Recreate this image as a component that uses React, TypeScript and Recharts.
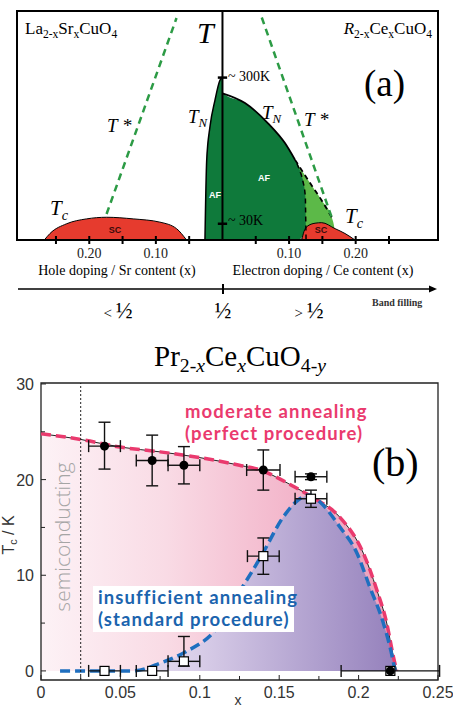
import React from 'react';
import {
  ComposedChart,
  Area,
  Line,
  Scatter,
  XAxis,
  YAxis,
  ReferenceLine,
  ReferenceArea,
  ErrorBar,
} from 'recharts';

// ---------- panel (a): schematic phase diagram (x < 0 hole side, x > 0 electron side)
const A_X_DOMAIN = [-0.3085, 0.3236];
const A_T_DOMAIN = [0, 423];
const A_TICKS = [-0.25, -0.2, -0.15, -0.1, -0.05, 0.05, 0.1, 0.15, 0.2, 0.25];
const A_TICK_LABELS = [-0.2, -0.1, 0.1, 0.2];

const lscoDome = [
  { x: -0.2675, y: 0 },
  { x: -0.259, y: 12 },
  { x: -0.234, y: 30 },
  { x: -0.204, y: 39 },
  { x: -0.174, y: 42 },
  { x: -0.134, y: 39 },
  { x: -0.094, y: 33 },
  { x: -0.069, y: 21 },
  { x: -0.054, y: 0 },
];
const ncoDome = [
  { x: 0.119, y: 0 },
  { x: 0.1225, y: 16 },
  { x: 0.127, y: 25 },
  { x: 0.139, y: 31 },
  { x: 0.149, y: 32 },
  { x: 0.169, y: 21 },
  { x: 0.184, y: 12 },
  { x: 0.199, y: 0 },
];
const greyWedge = [
  { x: 0.115, y: 0 },
  { x: 0.121, y: 8 },
  { x: 0.1265, y: 18 },
];
const tnHole = [
  { x: -0.0263, y: 0 },
  { x: -0.0237, y: 147 },
  { x: -0.0188, y: 209 },
  { x: -0.0113, y: 258 },
  { x: -0.0038, y: 295 },
  { x: 0, y: 301 },
];
const tnElectron = [
  { x: 0, y: 271 },
  { x: 0.0338, y: 253 },
  { x: 0.0688, y: 215 },
  { x: 0.0938, y: 179 },
  { x: 0.109, y: 148 },
];
const tnDashed = [
  { x: 0.109, y: 148 },
  { x: 0.129, y: 110 },
  { x: 0.149, y: 73 },
  { x: 0.164, y: 42 },
];
const afEdge = [
  { x: 0.112, y: 141 },
  { x: 0.1185, y: 120 },
  { x: 0.123, y: 97 },
  { x: 0.1245, y: 80 },
  { x: 0.1255, y: 0 },
];
const afRegion = [
  ...tnHole,
  { x: 0.0005, y: 271 },
  ...tnElectron.slice(1),
  { x: 0.114, y: 136 },
  { x: 0.1185, y: 120 },
  { x: 0.123, y: 97 },
  { x: 0.1245, y: 80 },
  { x: 0.1255, y: 0 },
];
const afLight = [
  { x: 0.105, y: 156 },
  ...tnDashed,
  { x: 0.168, y: 22 },
  { x: 0.17, y: 0 },
];
const tStarHole = [
  { x: -0.174, y: 48 },
  { x: -0.069, y: 410 },
];
const tStarElectron = [
  { x: 0.059, y: 411 },
  { x: 0.164, y: 42 },
];

// ---------- panel (b): Pr2-xCexCuO4-y
const B_X_DOMAIN = [0, 0.25];
const B_Y_DOMAIN = [-0.95, 30.1];
const B_X_TICKS = [0, 0.025, 0.05, 0.075, 0.1, 0.125, 0.15, 0.175, 0.2, 0.225, 0.25];
const B_Y_TICKS = [0, 5, 10, 15, 20, 25, 30];
const SEMI_BOUNDARY = 0.025;

const moderateCurve = [
  { x: 0, y: 24.8 },
  { x: 0.025, y: 24.2 },
  { x: 0.05, y: 23.4 },
  { x: 0.075, y: 22.9 },
  { x: 0.1, y: 22.3 },
  { x: 0.125, y: 21.5 },
  { x: 0.14, y: 20.9 },
  { x: 0.15, y: 20.1 },
  { x: 0.16, y: 19.2 },
  { x: 0.1725, y: 18.0 },
  { x: 0.188, y: 16.1 },
  { x: 0.203, y: 12.3 },
  { x: 0.2114, y: 8.5 },
  { x: 0.2177, y: 5 },
  { x: 0.2219, y: 1.5 },
  { x: 0.224, y: 0 },
];
const standardCurve = [
  { x: 0.012, y: 0 },
  { x: 0.035, y: 0 },
  { x: 0.058, y: 0 },
  { x: 0.075, y: 0.8 },
  { x: 0.09, y: 1.9 },
  { x: 0.11, y: 4.3 },
  { x: 0.127, y: 8.8 },
  { x: 0.139, y: 12.1 },
  { x: 0.1526, y: 16.1 },
  { x: 0.163, y: 18.0 },
  { x: 0.169, y: 18.4 },
  { x: 0.176, y: 17.6 },
  { x: 0.188, y: 15.1 },
  { x: 0.199, y: 12.3 },
  { x: 0.207, y: 8.8 },
  { x: 0.2156, y: 5 },
  { x: 0.2205, y: 2 },
  { x: 0.223, y: 0 },
];
const moderatePoints = [
  { x: 0.04, y: 23.5, ex: 0.01, ey: [2.4, 2.5] },
  { x: 0.07, y: 22.0, ex: 0.01, ey: 2.65 },
  { x: 0.09, y: 21.5, ex: 0.01, ey: 1.95 },
  { x: 0.14, y: 21.0, ex: 0.0105, ey: 2.1 },
  { x: 0.17, y: 20.3, ex: 0.01, ey: 0.3 },
  { x: 0.22, y: 0, ex: 0.031, ey: 0 },
];
const standardPoints = [
  { x: 0.04, y: 0, ex: 0.01, ey: 0 },
  { x: 0.07, y: 0, ex: 0.01, ey: 0 },
  { x: 0.09, y: 1.0, ex: 0.01, ey: [0.5, 2.6] },
  { x: 0.14, y: 12.0, ex: 0.01, ey: 1.9 },
  { x: 0.17, y: 18.0, ex: 0.01, ey: 0.9 },
  { x: 0.22, y: 0, ex: 0, ey: 0 },
];

const SERIF = '"Liberation Serif", "DejaVu Serif", serif';
const SANS = '"Liberation Sans", Arial, sans-serif';
const GILL = 'Lato, "Open Sans", sans-serif';

// text placed by its baseline
const Txt = ({ x, y, size, center, right, style, children }: any) => (
  <div
    style={{
      position: 'absolute',
      left: right ? undefined : x,
      right: right ? 453 - x : undefined,
      top: y - size * 0.85,
      fontSize: size,
      lineHeight: 1,
      whiteSpace: 'nowrap',
      fontFamily: SERIF,
      transform: center ? 'translateX(-50%)' : undefined,
      ...style,
    }}
  >
    {children}
  </div>
);

const Sub = ({ children, italic }: any) => (
  <span
    style={{
      fontSize: '0.68em',
      verticalAlign: '-0.32em',
      fontStyle: italic ? 'italic' : undefined,
    }}
  >
    {children}
  </span>
);

const Half = () => <span style={{ fontSize: '1.5em' }}>½</span>;

const ATick = ({ x, y, payload }: any) => {
  const v = payload.value;
  const hundred = Math.round(v * 100);
  const show = A_TICK_LABELS.some((t) => Math.round(t * 100) === hundred);
  return (
    <g>
      <line x1={x} x2={x} y1={y - 4} y2={y + 4} stroke="#000" strokeWidth={2} />
      {show && (
        <text x={x} y={y + 18} textAnchor="middle" fontFamily={SERIF} fontSize={14} fill="#222">
          {Math.abs(v).toFixed(2)}
        </text>
      )}
    </g>
  );
};

const BTickX = ({ x, y, payload }: any) => {
  const v = payload.value;
  const major = Math.round(v * 1000) % 50 === 0;
  return (
    <g>
      <line x1={x} x2={x} y1={y} y2={y - (major ? 5 : 4)} stroke="#222" />
      {major && (
        <text x={x} y={y + 18} textAnchor="middle" fontFamily={SANS} fontSize={16} fill="#333">
          {String(Number(v.toFixed(3)))}
        </text>
      )}
    </g>
  );
};

const BTickY = ({ x, y, payload }: any) => {
  const v = payload.value;
  const major = v % 10 === 0;
  return (
    <g>
      <line x1={x} x2={x + (major ? 5 : 4)} y1={y} y2={y} stroke="#222" />
      {major && (
        <text x={x - 7} y={y + 6} textAnchor="end" fontFamily={SANS} fontSize={16} fill="#333">
          {v}
        </text>
      )}
    </g>
  );
};

const FilledDot = (p: any) => <circle cx={p.cx} cy={p.cy} r={4.5} fill="#000" />;
const OpenSquare = (p: any) => (
  <rect x={p.cx - 4.5} y={p.cy - 4.5} width={9} height={9} fill="#fff" stroke="#000" strokeWidth={1.2} />
);

const PanelA = () => (
  <ComposedChart width={453} height={270} margin={{ top: 11, right: 15, left: 17, bottom: 0 }}>
    <XAxis
      type="number"
      dataKey="x"
      domain={A_X_DOMAIN}
      ticks={A_TICKS}
      interval={0}
      allowDataOverflow
      axisLine={false}
      tickLine={false}
      tickSize={0}
      tickMargin={0}
      height={30}
      tick={<ATick />}
    />
    <YAxis type="number" dataKey="y" domain={A_T_DOMAIN} allowDataOverflow hide />
    <Area data={afLight} dataKey="y" type="monotone" fill="#5cb948" fillOpacity={1} stroke="none" isAnimationActive={false} />
    <Area data={afRegion} dataKey="y" type="monotone" fill="#0f7a3b" fillOpacity={1} stroke="none" isAnimationActive={false} />
    <Area data={greyWedge} dataKey="y" type="linear" fill="#8c8c8c" fillOpacity={1} stroke="none" isAnimationActive={false} />
    <Area data={lscoDome} dataKey="y" type="monotone" fill="#e63b2e" fillOpacity={1} stroke="#000" strokeWidth={1} isAnimationActive={false} />
    <Area data={ncoDome} dataKey="y" type="monotone" fill="#e63b2e" fillOpacity={1} stroke="#000" strokeWidth={1} isAnimationActive={false} />
    <Line data={tnHole} dataKey="y" type="monotone" stroke="#000" strokeWidth={1.5} dot={false} isAnimationActive={false} />
    <Line data={tnElectron} dataKey="y" type="monotone" stroke="#000" strokeWidth={1.8} dot={false} isAnimationActive={false} />
    <Line data={tnDashed} dataKey="y" type="monotone" stroke="#000" strokeWidth={1.8} strokeDasharray="5 4" dot={false} isAnimationActive={false} />
    <Line data={afEdge} dataKey="y" type="linear" stroke="#000" strokeWidth={1.5} strokeDasharray="5 4" dot={false} isAnimationActive={false} />
    <Line data={tStarHole} dataKey="y" type="linear" stroke="#2c9b45" strokeWidth={2.5} strokeDasharray="7 5" dot={false} isAnimationActive={false} />
    <Line data={tStarElectron} dataKey="y" type="linear" stroke="#2c9b45" strokeWidth={2.5} strokeDasharray="7 5" dot={false} isAnimationActive={false} />
    <ReferenceLine x={0} stroke="#000" strokeWidth={2} />
    <ReferenceLine segment={[{ x: -0.007, y: 300 }, { x: 0.007, y: 300 }]} stroke="#000" strokeWidth={2.5} />
    <ReferenceLine segment={[{ x: -0.007, y: 30 }, { x: 0.007, y: 30 }]} stroke="#000" strokeWidth={2.5} />
    <ReferenceArea
      x1={A_X_DOMAIN[0]}
      x2={A_X_DOMAIN[1]}
      y1={A_T_DOMAIN[0]}
      y2={A_T_DOMAIN[1]}
      fill="none"
      stroke="#000"
      strokeWidth={2}
      ifOverflow="visible"
    />
  </ComposedChart>
);

const PanelB = () => (
  <ComposedChart width={453} height={370} margin={{ top: 43, right: 15, left: 0, bottom: 0 }}>
    <defs>
      <linearGradient id="pinkFill" x1="0" y1="0" x2="1" y2="0">
        <stop offset="0" stopColor="#fdf2f6" />
        <stop offset="0.35" stopColor="#f9dbe5" />
        <stop offset="0.7" stopColor="#f3b6cb" />
        <stop offset="1" stopColor="#ee9fba" />
      </linearGradient>
      <linearGradient id="purpleFill" x1="0" y1="0" x2="1" y2="0">
        <stop offset="0" stopColor="#f3edf7" />
        <stop offset="0.4" stopColor="#dacfe9" />
        <stop offset="0.7" stopColor="#b7a8d3" />
        <stop offset="1" stopColor="#9581bc" />
      </linearGradient>
    </defs>
    <XAxis
      type="number"
      dataKey="x"
      domain={B_X_DOMAIN}
      ticks={B_X_TICKS}
      interval={0}
      allowDataOverflow
      axisLine={false}
      tickLine={false}
      tickSize={0}
      tickMargin={0}
      height={30}
      tick={<BTickX />}
    />
    <YAxis
      type="number"
      dataKey="y"
      domain={B_Y_DOMAIN}
      ticks={B_Y_TICKS}
      interval={0}
      allowDataOverflow
      axisLine={false}
      tickLine={false}
      tickSize={0}
      tickMargin={0}
      width={41}
      tick={<BTickY />}
    />
    <Area data={moderateCurve} dataKey="y" type="monotone" fill="url(#pinkFill)" fillOpacity={1} stroke="none" isAnimationActive={false} />
    <Area data={standardCurve} dataKey="y" type="monotone" fill="url(#purpleFill)" fillOpacity={1} stroke="none" isAnimationActive={false} />
    <Line data={moderateCurve} dataKey="y" type="monotone" stroke="#222" strokeWidth={1} dot={false} isAnimationActive={false} />
    <Line data={moderateCurve} dataKey="y" type="monotone" stroke="#ea3a6e" strokeWidth={3.5} strokeDasharray="10 5" dot={false} isAnimationActive={false} />
    <Line data={standardCurve} dataKey="y" type="monotone" stroke="#1f6fbf" strokeWidth={3.5} strokeDasharray="10 5" dot={false} isAnimationActive={false} />
    <ReferenceLine x={SEMI_BOUNDARY} stroke="#222" strokeWidth={1} strokeDasharray="2 2" />
    <Scatter data={standardPoints} shape={<OpenSquare />} isAnimationActive={false}>
      <ErrorBar dataKey="ex" direction="x" width={6} stroke="#111" strokeWidth={1.4} />
      <ErrorBar dataKey="ey" direction="y" width={6} stroke="#111" strokeWidth={1.4} />
    </Scatter>
    <Scatter data={moderatePoints} shape={<FilledDot />} isAnimationActive={false}>
      <ErrorBar dataKey="ex" direction="x" width={6} stroke="#111" strokeWidth={1.4} />
      <ErrorBar dataKey="ey" direction="y" width={6} stroke="#111" strokeWidth={1.4} />
    </Scatter>
    <ReferenceArea
      x1={B_X_DOMAIN[0]}
      x2={B_X_DOMAIN[1]}
      y1={B_Y_DOMAIN[0]}
      y2={B_Y_DOMAIN[1]}
      fill="none"
      stroke="#222"
      strokeWidth={1.3}
      ifOverflow="visible"
    />
  </ComposedChart>
);

export default function App() {
  const it = { fontStyle: 'italic' };
  const note = { fontFamily: GILL, fontWeight: 700, letterSpacing: 1.1 };
  return (
    <div style={{ position: 'absolute', left: 0, top: 0, width: 453, height: 710, background: '#fff', overflow: 'hidden' }}>
      <div style={{ position: 'absolute', left: 0, top: 0 }}>
        <PanelA />
      </div>
      <div style={{ position: 'absolute', left: 0, top: 340 }}>
        <PanelB />
      </div>

      {/* panel (a) annotations */}
      <Txt x={25} y={34} size={17}>
        La<Sub>2-x</Sub>Sr<Sub>x</Sub>CuO<Sub>4</Sub>
      </Txt>
      <Txt x={197} y={43} size={30} style={it}>T</Txt>
      <Txt x={432} y={34} size={17} right>
        <span style={it}>R</span>
        <Sub>2-x</Sub>Ce<Sub>x</Sub>CuO<Sub>4</Sub>
      </Txt>
      <Txt x={364} y={96} size={37}>(a)</Txt>
      <Txt x={228} y={82} size={14}>~ 300K</Txt>
      <Txt x={228} y={226} size={14}>~ 30K</Txt>
      <Txt x={107} y={132} size={19} style={it}>T *</Txt>
      <Txt x={304} y={126} size={19} style={it}>T *</Txt>
      <Txt x={188} y={123} size={19} style={it}>
        T<Sub italic>N</Sub>
      </Txt>
      <Txt x={262} y={119} size={19} style={it}>
        T<Sub italic>N</Sub>
      </Txt>
      <Txt x={50} y={216} size={21} style={it}>
        T<Sub italic>c</Sub>
      </Txt>
      <Txt x={345} y={224} size={21} style={it}>
        T<Sub italic>c</Sub>
      </Txt>
      <Txt x={215} y={199} size={9} center style={{ fontFamily: SANS, fontWeight: 700, color: '#fff' }}>AF</Txt>
      <Txt x={264} y={182} size={9} center style={{ fontFamily: SANS, fontWeight: 700, color: '#fff' }}>AF</Txt>
      <Txt x={115} y={234} size={9} center style={{ fontFamily: SANS, fontWeight: 700, color: '#3a0b0b' }}>SC</Txt>
      <Txt x={321} y={234} size={9} center style={{ fontFamily: SANS, fontWeight: 700, color: '#3a0b0b' }}>SC</Txt>
      <Txt x={117} y={276} size={14} center>Hole doping / Sr content (x)</Txt>
      <Txt x={323} y={276} size={14} center>Electron doping / Ce content (x)</Txt>
      <svg style={{ position: 'absolute', left: 0, top: 280 }} width={453} height={20}>
        <line x1={18} x2={431} y1={9} y2={9} stroke="#000" strokeWidth={1.5} />
        <polygon points="437,9 429,5.5 429,12.5" fill="#000" />
        <line x1={223} x2={223} y1={4} y2={14} stroke="#000" strokeWidth={2} />
      </svg>
      <Txt x={118} y={313} size={15} center>&lt; <Half /></Txt>
      <Txt x={223} y={313} size={15} center><Half /></Txt>
      <Txt x={309} y={313} size={15} center>&gt; <Half /></Txt>
      <Txt x={372} y={306} size={10} style={{ fontWeight: 700, color: '#333' }}>Band filling</Txt>

      {/* panel (b) annotations */}
      <Txt x={240} y={367} size={29} center>
        Pr<Sub>2-<i>x</i></Sub>Ce<Sub><i>x</i></Sub>CuO<Sub>4-<i>y</i></Sub>
      </Txt>
      <Txt x={185} y={418} size={18.5} style={{ ...note, color: '#ea3a6e' }}>
        moderate annealing
      </Txt>
      <Txt x={185} y={440} size={18.5} style={{ ...note, color: '#ea3a6e' }}>
        (perfect procedure)
      </Txt>
      <div style={{ position: 'absolute', left: 93, top: 586, width: 201, height: 46, background: '#fff' }} />
      <Txt x={98} y={604} size={18.5} style={{ ...note, color: '#1b64ae' }}>
        insufficient annealing
      </Txt>
      <Txt x={98} y={626} size={18.5} style={{ ...note, color: '#1b64ae' }}>
        (standard procedure)
      </Txt>
      <Txt x={372} y={477} size={40}>(b)</Txt>
      <div
        style={{
          position: 'absolute',
          left: 62,
          top: 537,
          transform: 'translate(-50%, -50%) rotate(-90deg)',
          fontFamily: '"Open Sans", sans-serif',
          fontWeight: 300,
          fontSize: 21,
          color: '#a5a5a5',
          whiteSpace: 'nowrap',
          lineHeight: 1,
        }}
      >
        semiconducting
      </div>
      <div
        style={{
          position: 'absolute',
          left: 10,
          top: 535,
          transform: 'translate(-50%, -50%) rotate(-90deg)',
          fontFamily: SANS,
          fontSize: 16,
          color: '#333',
          whiteSpace: 'nowrap',
          lineHeight: 1,
        }}
      >
        T<Sub>c</Sub> / K
      </div>
      <Txt x={238} y={705} size={14} center style={{ fontFamily: SANS, color: '#333' }}>x</Txt>
    </div>
  );
}
